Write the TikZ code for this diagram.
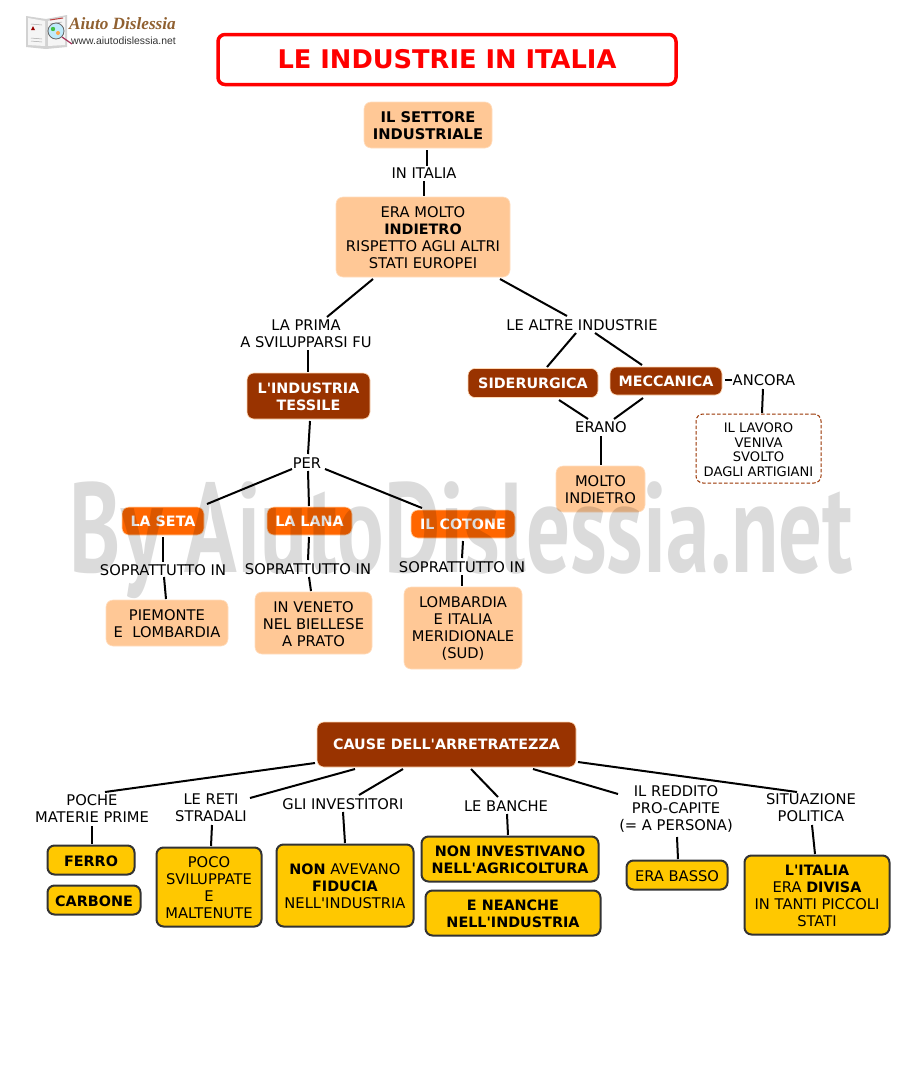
\documentclass[tikz,border=0pt]{standalone}
\usepackage{fontspec}
\setmainfont{DejaVu Sans}[Ligatures=TeXOff]
\newfontfamily\logofont{Liberation Serif}
\newfontfamily\urlfont{Liberation Sans}
\newfontfamily\wmfont{PT Sans}
\definecolor{peach}{HTML}{FFC896}
\definecolor{rust}{HTML}{993300}
\definecolor{orng}{HTML}{FF6600}
\definecolor{gold}{HTML}{FFC800}
\definecolor{dk}{HTML}{333333}
\newcommand{\lnk}[4]{\draw[conn] ([shift={(#2)}]#1.center) -- ([shift={(#4)}]#3.center);}
\newcommand{\bt}[1]{{\fontsize{14.35}{17}\selectfont\bfseries #1}}
\newcommand{\nd}{\rule{0pt}{12.7pt}}
\tikzset{
  base/.style={align=center,inner sep=0pt,rounded corners=7pt,font=\fontsize{14.7}{17}\selectfont},
  peachbox/.style={base,fill=peach,draw=peach!60!white,line width=.6pt},
  rustbox/.style={base,fill=rust,draw=peach!70!white,line width=.6pt,text=white,font=\fontsize{14.3}{17}\selectfont\bfseries},
  orangebox/.style={base,fill=orng,draw=peach!80!white,line width=.6pt,text=white,font=\fontsize{14.3}{17}\selectfont\bfseries},
  goldbox/.style={base,fill=gold,draw=dk,line width=2pt},
  dashbox/.style={base,draw=rust,line width=1pt,dash pattern=on 3.5pt off 2pt,font=\fontsize{13.1}{14.6}\selectfont},
  lbl/.style={align=center,inner sep=0pt,font=\fontsize{14.7}{17}\selectfont},
  conn/.style={draw=black,line width=2pt},
  titlebox/.style={base,draw=red,line width=3.5pt,fill=white,text=red,font=\fontsize{25.7}{28}\selectfont\bfseries},
}
\begin{document}
\begin{tikzpicture}[x=1pt,y=-1pt]
\useasboundingbox (0,0) rectangle (920,1087);
\fill[white] (0,0) rectangle (920,1087);
% logo
\fill[gray!35] (26,16) -- (46,19) -- (67,15) -- (67,47) -- (46,49) -- (26,47) -- cycle;
\fill[white!92!gray] (28,18) -- (45,21) -- (45,46) -- (28,45) -- cycle;
\fill[white!92!gray] (48,21) -- (65,17) -- (65,45) -- (48,46) -- cycle;
\draw[gray!70,line width=.5pt] (31,24) -- (42,25) (31,38) -- (42,39) (31,41) -- (42,42) (50,24) -- (62,22);
\fill[red!60!black] (31,30) -- (33,26) -- (35,30) -- cycle;
\draw[red!50!gray,line width=1pt] (50,20) -- (63,18);
\fill[cyan!25] (56,31) circle (8);
\fill[green!50!gray] (53,29) circle (2.2);
\fill[orange!70] (58,33) circle (2);
\draw[gray!80!black,line width=.8pt] (56,31) circle (8);
\draw[purple!60!gray,line width=1.2pt] (62,37) -- (72,44);
\node[inner sep=0pt,text=brown!75!black,font=\logofont\fontsize{17.2}{18}\selectfont\bfseries\itshape] (logoname) at (122.5,24) {Aiuto Dislessia};
\node[inner sep=0pt,text=dk,font=\urlfont\fontsize{10.4}{11}\selectfont] (logourl) at (123.5,41) {www.aiutodislessia.net};
% title
\node[titlebox,minimum width=458,minimum height=50] (title) at (447,59.5) {LE INDUSTRIE IN ITALIA};
% upper map
\node[peachbox,minimum width=128,minimum height=46] (set) at (428,125) {\nd\textbf{IL SETTORE}\\\textbf{INDUSTRIALE}};
\node[lbl] (italia) at (424,173) {IN ITALIA};
\node[peachbox,minimum width=174,minimum height=80] (era) at (423,237) {\nd ERA MOLTO\\\bt{INDIETRO}\\RISPETTO AGLI ALTRI\\STATI EUROPEI};
\node[lbl] (prima) at (306,332.5) {\nd LA PRIMA\\A SVILUPPARSI FU};
\node[lbl] (altre) at (582,324) {\nd LE ALTRE INDUSTRIE};
\node[rustbox,minimum width=123,minimum height=46] (tess) at (308.5,396) {\nd L'INDUSTRIA\\TESSILE};
\node[rustbox,minimum width=130,minimum height=29] (sid) at (533,383) {SIDERURGICA};
\node[rustbox,minimum width=112,minimum height=28] (mec) at (666,381) {MECCANICA};
\node[lbl] (ancora) at (764,380) {ANCORA};
\node[lbl] (erano) at (601,427) {ERANO};
\node[dashbox,minimum width=125,minimum height=69] (lav) at (758.5,448.5) {\rule{0pt}{12pt}IL LAVORO\\VENIVA\\SVOLTO\\DAGLI ARTIGIANI};
\node[peachbox,minimum width=89,minimum height=46] (molto) at (600.5,489) {\nd MOLTO\\INDIETRO};
\node[lbl] (per) at (307,462) {\nd PER};
\node[orangebox,minimum width=82,minimum height=28] (seta) at (163,521) {LA SETA};
\node[orangebox,minimum width=85,minimum height=28] (lana) at (309.5,521) {LA LANA};
\node[orangebox,minimum width=104,minimum height=28] (cot) at (463,524) {IL COTONE};
\node[lbl] (s1) at (163,569) {\nd SOPRATTUTTO IN};
\node[lbl] (s2) at (308,568) {\nd SOPRATTUTTO IN};
\node[lbl] (s3) at (462,566) {\nd SOPRATTUTTO IN};
\node[peachbox,minimum width=122,minimum height=46] (pie) at (167,623) {\nd PIEMONTE\\E\ \ LOMBARDIA};
\node[peachbox,minimum width=117,minimum height=62] (ven) at (313.5,623) {\nd IN VENETO\\NEL BIELLESE\\A PRATO};
\node[peachbox,minimum width=118,minimum height=82] (lom) at (463,628) {\nd LOMBARDIA\\E ITALIA\\MERIDIONALE\\(SUD)};
% lower map
\node[rustbox,minimum width=259,minimum height=45] (cause) at (446.5,744.5) {CAUSE DELL'ARRETRATEZZA};
\node[lbl] (poche) at (92,808.5) {POCHE\\MATERIE PRIME};
\node[lbl] (reti) at (211,807) {\nd LE RETI\\STRADALI};
\node[lbl] (inv) at (343,803) {\nd GLI INVESTITORI};
\node[lbl] (ban) at (506,805) {\nd LE BANCHE};
\node[lbl] (red) at (676,808) {\nd IL REDDITO\\PRO-CAPITE\\(= A PERSONA)};
\node[lbl] (sit) at (811,808) {SITUAZIONE\\POLITICA};
\node[goldbox,minimum width=87,minimum height=29] (ferro) at (91,860) {\nd\bt{FERRO}};
\node[goldbox,minimum width=93,minimum height=29] (carb) at (94,900) {\nd\bt{CARBONE}};
\node[goldbox,minimum width=105,minimum height=79] (poco) at (209,887) {\nd POCO\\SVILUPPATE\\E\\MALTENUTE};
\node[goldbox,minimum width=137,minimum height=82] (nonav) at (345,885.5) {\nd\bt{NON} AVEVANO\\\bt{FIDUCIA}\\NELL'INDUSTRIA};
\node[goldbox,minimum width=177,minimum height=45] (noninv) at (510,859) {\nd\bt{NON INVESTIVANO}\\\bt{NELL'AGRICOLTURA}};
\node[goldbox,minimum width=175,minimum height=45] (neanche) at (513,913) {\nd\bt{E NEANCHE}\\\bt{NELL'INDUSTRIA}};
\node[goldbox,minimum width=101,minimum height=29] (basso) at (677,875) {\nd ERA BASSO};
\node[goldbox,minimum width=145,minimum height=79] (ita) at (817,895) {\nd\bt{L'ITALIA}\\ERA \bt{DIVISA}\\IN TANTI PICCOLI\\STATI};
% connectors
\lnk{set}{-1,25}{italia}{3,-7}
\lnk{italia}{0,8}{era}{1,-41}
\lnk{era}{-50,42}{prima}{21,-15.5}
\lnk{era}{77,42}{altre}{-15,-8}
\lnk{altre}{-6,9}{sid}{14,-16}
\lnk{altre}{13,9}{mec}{-24,-16}
\lnk{sid}{26,17}{erano}{-13,-8}
\lnk{mec}{-23,17}{erano}{13,-8}
\lnk{erano}{0,9}{molto}{.5,-24}
\lnk{mec}{59,-1}{ancora}{-32,0}
\lnk{ancora}{-1,9}{lav}{3.5,-35.5}
\lnk{prima}{2,17.5}{tess}{-.5,-24}
\lnk{tess}{1.5,25}{per}{1,-8}
\lnk{per}{-15,7}{seta}{44,-17}
\lnk{per}{1,9}{lana}{-.5,-15}
\lnk{per}{18,7}{cot}{-41,-16}
\lnk{seta}{0,16}{s1}{0,-7}
\lnk{s1}{1,8}{pie}{-1,-24}
\lnk{lana}{-.5,16}{s2}{0,-8}
\lnk{s2}{1,9}{ven}{-2.5,-32}
\lnk{cot}{0,17}{s3}{0,-8}
\lnk{s3}{0,9}{lom}{-1,-42}
\lnk{cause}{-131.5,18.5}{poche}{13,-16.5}
\lnk{cause}{-91.5,24.5}{reti}{39,-9}
\lnk{cause}{-43.5,24.5}{inv}{16,-8}
\lnk{cause}{24.5,24.5}{ban}{-8,-8}
\lnk{cause}{86.5,24.5}{red}{-58,-14}
\lnk{cause}{131.5,17.5}{sit}{-14,-16}
\lnk{poche}{0,17.5}{ferro}{1,-16}
\lnk{reti}{1,18}{poco}{2,-41}
\lnk{inv}{0,9}{nonav}{0,-42.5}
\lnk{ban}{1,9}{noninv}{-2,-24}
\lnk{red}{1,29}{basso}{1,-16}
\lnk{sit}{1,17}{ita}{-2,-41}
% watermark
\node[inner sep=0pt,text=black,text opacity=.14] (wm) at (461.5,540.5) {\resizebox*{783pt}{117pt}{\wmfont\bfseries By AiutoDislessia.net}};
\end{tikzpicture}
\end{document}
